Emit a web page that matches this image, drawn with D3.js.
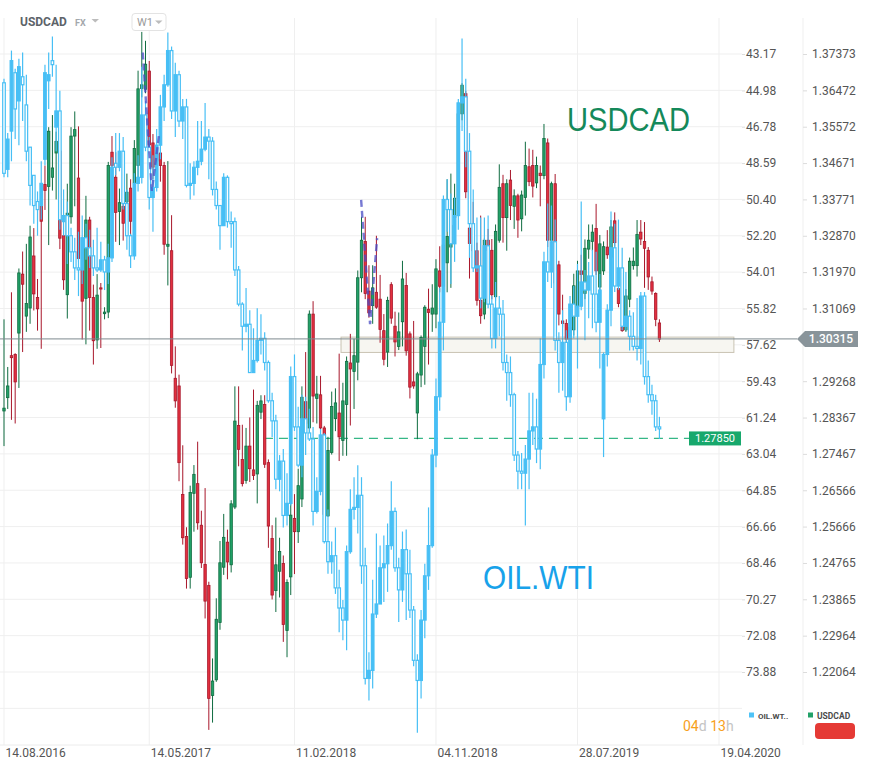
<!DOCTYPE html>
<html>
<head>
<meta charset="utf-8">
<script src="https://cdn.jsdelivr.net/npm/d3@7"></script>
<style>
  body { margin: 0; background: #fff; }
  svg { display: block; font-family: Roboto, "Noto Sans", sans-serif; }
</style>
</head>
<body>
<svg id="chart" width="870" height="771"></svg>
<script>
// axis labels
const oilTicks = [43.17, 44.98, 46.78, 48.59, 50.40, 52.20, 54.01, 55.82, 57.62, 59.43, 61.24, 63.04, 64.85, 66.66, 68.46, 70.27, 72.08, 73.88];
const usdTicks = [1.37373, 1.36472, 1.35572, 1.34671, 1.33771, 1.32870, 1.31970, 1.31069, 1.30169, 1.29268, 1.28367, 1.27467, 1.26566, 1.25666, 1.24765, 1.23865, 1.22964, 1.22064];
const dateTicks = ['14.08.2016', '14.05.2017', '11.02.2018', '04.11.2018', '28.07.2019', '19.04.2020'];
const firstWeek = '14.08.2016';

// USDCAD weekly candles
const usdOpen = [
  1.2853,1.2886,1.2990,1.2993,1.3046,1.3192,1.3088,1.3108,1.3237,1.3134,
  1.3360,1.3414,1.3409,1.3432,1.3492,1.3497,1.3287,1.3141,1.3334,1.3534,
  1.3430,1.3203,1.3132,1.3326,1.3134,1.3029,1.3158,1.3094,1.3098,1.3494,
  1.3432,1.3347,1.3360,1.3371,1.3405,1.3418,1.3461,1.3652,1.3650,1.3695,
  1.3517,1.3489,1.3492,1.3461,1.3261,1.3250,1.2934,1.2915,1.2646,1.2542,
  1.2441,1.2649,1.2673,1.2570,1.2473,1.2421,1.2148,1.2187,1.2329,1.2466,
  1.2528,1.2472,1.2615,1.2817,1.2733,1.2681,1.2766,1.2707,1.2697,1.2850,
  1.2869,1.2725,1.2537,1.2408,1.2456,1.2475,1.2309,1.2442,1.2587,1.2554,
  1.2635,1.2876,1.2811,1.3093,1.2884,1.2893,1.2811,1.2593,1.2750,1.2834,
  1.2848,1.2780,1.2869,1.2972,1.2951,1.2974,1.3183,1.3273,1.3150,1.3114,
  1.3147,1.3130,1.3052,1.2999,1.3166,1.3063,1.3013,1.3074,1.3164,1.3044,
  1.2925,1.2848,1.2942,1.3013,1.3105,1.3093,1.3093,1.3200,1.3162,1.3220,
  1.3259,1.3332,1.3380,1.3589,1.3639,1.3306,1.3264,1.3250,1.3127,1.3093,
  1.3276,1.3251,1.3136,1.3276,1.3416,1.3332,1.3425,1.3360,1.3386,1.3329,
  1.3382,1.3458,1.3461,1.3418,1.3442,1.3436,1.3517,1.3276,1.3416,1.3215,
  1.3076,1.3070,1.3031,1.3054,1.3111,1.3200,1.3144,1.3254,1.3273,1.3305,
  1.3160,1.3200,1.3259,1.3234,1.3324,1.3156,1.3060,1.3054,1.3130,1.3213,
  1.3213,1.3296,1.3273,1.3251,1.3173,1.3144,1.3071
];
const usdHigh = [
  1.3080,1.2962,1.3147,1.2996,1.3206,1.3248,1.3267,1.3312,1.3306,1.3180,
  1.3371,1.3461,1.3556,1.3586,1.3545,1.3500,1.3290,1.3416,1.3556,1.3595,
  1.3558,1.3282,1.3386,1.3334,1.3166,1.3192,1.3170,1.3110,1.3470,1.3534,
  1.3494,1.3404,1.3366,1.3441,1.3427,1.3524,1.3696,1.3792,1.3770,1.3720,
  1.3539,1.3503,1.3506,1.3470,1.3472,1.3338,1.3013,1.2943,1.2768,1.2565,
  1.2668,1.2719,1.2777,1.2606,1.2662,1.2430,1.2240,1.2389,1.2531,1.2598,
  1.2559,1.2632,1.2914,1.2914,1.2819,1.2811,1.2837,1.2906,1.2878,1.2892,
  1.2892,1.2733,1.2570,1.2589,1.2539,1.2495,1.2436,1.2638,1.2647,1.2710,
  1.2914,1.2999,1.3102,1.3125,1.2940,1.2940,1.2816,1.2789,1.2901,1.2909,
  1.2995,1.2923,1.2988,1.3044,1.3032,1.3201,1.3334,1.3334,1.3214,1.3214,
  1.3287,1.3190,1.3093,1.3136,1.3172,1.3099,1.3097,1.3225,1.3195,1.3050,
  1.3076,1.2950,1.3040,1.3115,1.3156,1.3167,1.3229,1.3261,1.3282,1.3427,
  1.3441,1.3416,1.3617,1.3665,1.3646,1.3371,1.3371,1.3270,1.3337,1.3282,
  1.3304,1.3279,1.3315,1.3464,1.3438,1.3427,1.3450,1.3402,1.3391,1.3399,
  1.3520,1.3503,1.3500,1.3483,1.3461,1.3564,1.3528,1.3421,1.3440,1.3225,
  1.3141,1.3080,1.3100,1.3193,1.3225,1.3240,1.3278,1.3315,1.3315,1.3366,
  1.3289,1.3273,1.3301,1.3326,1.3345,1.3282,1.3165,1.3155,1.3233,1.3258,
  1.3326,1.3326,1.3321,1.3259,1.3186,1.3147,1.3080
];
const usdLow = [
  1.2766,1.2858,1.2831,1.2822,1.2910,1.2999,1.3049,1.3069,1.3102,1.3052,
  1.3007,1.3351,1.3264,1.3399,1.3377,1.3254,1.3153,1.3082,1.3317,1.3360,
  1.3222,1.3030,1.3018,1.3052,1.2968,1.3007,1.3009,1.3080,1.3083,1.3430,
  1.3272,1.3264,1.3275,1.3287,1.3275,1.3410,1.3427,1.3630,1.3640,1.3500,
  1.3427,1.3438,1.3421,1.3240,1.3164,1.2946,1.2861,1.2679,1.2522,1.2413,
  1.2413,1.2554,1.2559,1.2464,1.2339,1.2063,1.2081,1.2182,1.2311,1.2447,
  1.2436,1.2453,1.2610,1.2716,1.2666,1.2673,1.2677,1.2682,1.2624,1.2833,
  1.2712,1.2514,1.2386,1.2355,1.2391,1.2281,1.2243,1.2397,1.2449,1.2526,
  1.2615,1.2813,1.2800,1.2825,1.2822,1.2797,1.2586,1.2591,1.2745,1.2803,
  1.2729,1.2742,1.2742,1.2817,1.2858,1.2929,1.3147,1.3130,1.3084,1.3069,
  1.3106,1.3022,1.2966,1.2962,1.3069,1.2988,1.3004,1.3013,1.2990,1.2884,
  1.2908,1.2783,1.2912,1.2918,1.2968,1.3049,1.3058,1.3147,1.3147,1.3147,
  1.3158,1.3315,1.3371,1.3573,1.3380,1.3181,1.3237,1.3114,1.3069,1.3080,
  1.3237,1.3130,1.3125,1.3270,1.3270,1.3250,1.3326,1.3304,1.3282,1.3298,
  1.3337,1.3410,1.3382,1.3405,1.3360,1.3427,1.3259,1.3259,1.3158,1.3065,
  1.3060,1.3024,1.3015,1.3040,1.3100,1.3150,1.3130,1.3230,1.3250,1.3190,
  1.3140,1.3190,1.3230,1.3220,1.3260,1.3110,1.3049,1.3049,1.3110,1.3203,
  1.3186,1.3264,1.3158,1.3153,1.3141,1.3063,1.3024
];
const usdClose = [
  1.2860,1.2915,1.2985,1.2925,1.3195,1.3167,1.3119,1.3284,1.3143,1.3106,
  1.3323,1.3399,1.3546,1.3455,1.3521,1.3281,1.3178,1.3343,1.3534,1.3550,
  1.3231,1.3125,1.3326,1.3134,1.3027,1.3140,1.3155,1.3098,1.3461,1.3461,
  1.3345,1.3369,1.3318,1.3395,1.3323,1.3503,1.3651,1.3661,1.3712,1.3512,
  1.3457,1.3472,1.3461,1.3266,1.3266,1.2966,1.2878,1.2725,1.2539,1.2438,
  1.2651,1.2696,1.2576,1.2477,1.2382,1.2141,1.2184,1.2337,1.2477,1.2540,
  1.2479,1.2623,1.2828,1.2758,1.2673,1.2766,1.2710,1.2693,1.2867,1.2878,
  1.2721,1.2568,1.2397,1.2472,1.2505,1.2324,1.2428,1.2595,1.2554,1.2668,
  1.2887,1.2822,1.3093,1.2890,1.2895,1.2811,1.2597,1.2755,1.2864,1.2873,
  1.2789,1.2878,1.2976,1.2957,1.2990,1.3183,1.3276,1.3144,1.3096,1.3158,
  1.3110,1.3055,1.2981,1.3127,1.3083,1.3024,1.3049,1.3180,1.3002,1.2912,
  1.2915,1.2945,1.3035,1.3110,1.3097,1.3108,1.3205,1.3162,1.3264,1.3285,
  1.3313,1.3380,1.3589,1.3660,1.3396,1.3268,1.3250,1.3127,1.3089,1.3276,
  1.3251,1.3141,1.3298,1.3407,1.3332,1.3416,1.3362,1.3386,1.3326,1.3388,
  1.3461,1.3421,1.3410,1.3461,1.3436,1.3528,1.3276,1.3416,1.3170,1.3093,
  1.3070,1.3031,1.3060,1.3163,1.3200,1.3191,1.3256,1.3276,1.3296,1.3200,
  1.3267,1.3260,1.3240,1.3309,1.3270,1.3119,1.3052,1.3138,1.3224,1.3224,
  1.3290,1.3279,1.3256,1.3185,1.3150,1.3080,1.3031
];

// OIL.WTI weekly candles (drawn on the inverted left scale)
const oilOpen = [
  44.6,48.9,47.0,44.1,45.5,44.3,45.7,47.8,49.2,50.5,
  50.7,48.4,44.5,43.5,46.8,46.0,51.5,51.2,52.2,53.0,
  53.8,53.9,52.3,52.8,53.2,53.8,53.9,53.4,54.0,53.3,
  48.6,48.8,48.0,50.6,52.2,53.2,49.6,49.3,46.2,47.8,
  50.3,49.8,47.7,45.8,44.7,43.0,46.0,44.2,46.5,45.8,
  49.7,49.6,48.8,48.5,47.9,47.3,47.5,49.9,50.7,51.7,
  49.3,51.5,51.5,53.9,55.6,56.7,56.6,59.0,58.4,57.4,
  57.3,58.5,60.4,61.4,64.3,63.4,66.1,65.5,59.2,61.7,
  63.6,61.3,62.0,62.3,65.9,64.9,62.1,67.4,68.4,68.1,
  69.7,70.7,71.3,67.9,65.8,65.7,65.1,68.6,74.2,73.8,
  71.0,70.5,68.7,68.5,67.6,65.9,68.7,69.8,67.8,69.0,
  70.8,73.3,74.3,71.3,69.1,67.6,63.1,60.2,56.5,50.4,
  50.9,52.6,51.2,45.6,45.3,48.0,51.6,53.8,53.7,55.3,
  52.7,55.6,57.3,55.8,56.1,58.5,59.0,60.1,63.1,63.9,
  64.0,63.3,61.9,61.7,62.8,58.6,53.5,54.0,52.5,57.4,
  58.5,57.5,60.2,55.6,56.2,55.7,54.5,54.9,54.2,55.1,
  56.5,61.3,58.1,55.9,52.8,54.7,53.8,56.7,56.2,57.2,
  57.7,57.8,55.2,59.2,60.1,60.4,61.7
];
const oilHigh = [
  49.3,49.3,48.5,47.4,47.7,46.5,48.5,50.7,51.6,52.2,
  51.4,48.7,45.9,44.3,48.0,51.9,52.2,53.6,53.5,54.4,
  55.2,54.6,53.4,53.8,54.2,54.0,54.0,54.9,54.6,53.5,
  49.2,49.0,50.9,52.9,53.8,53.4,50.0,49.6,48.0,50.9,
  52.0,50.0,48.4,46.5,44.8,46.4,47.3,46.8,47.4,49.8,
  50.4,50.2,49.2,48.7,48.0,49.4,50.2,50.9,52.9,51.7,
  51.8,52.8,54.2,55.7,57.9,57.0,59.0,59.0,58.5,58.1,
  58.9,60.5,62.2,64.8,64.9,66.7,66.6,65.6,61.9,63.7,
  64.2,63.1,62.4,66.6,66.0,65.1,67.5,69.0,69.0,70.0,
  71.9,72.3,72.8,68.0,66.3,67.0,69.5,74.5,75.3,74.7,
  71.2,70.5,70.4,69.9,67.8,68.9,71.4,70.4,71.3,71.2,
  73.6,76.9,75.2,72.2,69.8,67.7,63.7,60.9,57.9,52.0,
  54.6,53.5,51.9,47.0,48.8,53.3,54.0,54.0,55.8,55.5,
  55.8,57.8,57.8,57.2,58.9,60.4,60.7,63.4,64.8,64.8,
  66.6,64.8,62.6,63.5,63.8,59.3,54.5,54.8,57.9,60.0,
  59.9,60.9,60.5,57.3,58.8,55.9,57.4,56.3,56.8,57.0,
  58.8,63.2,58.7,56.7,55.0,54.9,56.9,56.9,57.9,57.9,
  58.4,58.6,59.6,60.5,61.1,61.9,62.3
];
const oilLow = [
  44.4,47.1,43.0,43.9,43.4,43.1,44.2,47.8,49.2,50.0,
  48.5,43.7,43.1,42.3,43.7,45.0,49.9,50.5,51.8,52.3,
  52.0,51.2,51.6,51.9,52.4,51.8,52.5,53.2,52.6,48.3,
  47.1,47.1,47.3,49.9,52.1,49.1,48.2,43.8,45.5,47.3,
  48.2,46.9,45.2,44.2,42.1,42.8,43.6,44.0,45.4,45.4,
  48.6,48.5,46.5,46.5,45.6,46.9,47.3,49.5,50.7,49.1,
  49.2,51.0,51.3,53.7,55.5,54.8,55.9,56.8,55.8,56.1,
  57.0,58.4,60.0,61.1,63.1,62.8,64.0,58.7,58.1,60.7,
  60.1,60.2,60.8,61.7,64.2,61.8,62.0,65.8,67.4,66.7,
  68.8,70.3,67.6,64.8,64.2,63.6,64.2,67.7,72.9,69.3,
  67.0,67.6,67.1,66.5,64.4,65.7,68.2,66.9,66.8,67.8,
  70.6,73.0,70.8,68.5,65.7,62.8,59.3,54.8,50.2,49.4,
  50.1,50.3,45.4,42.4,44.4,47.1,49.9,51.3,51.3,51.3,
  51.2,55.2,54.5,55.2,55.4,58.1,58.2,60.0,62.9,63.0,
  62.6,60.0,60.0,60.3,57.3,53.0,50.6,50.7,51.4,57.0,
  55.9,56.9,55.2,54.7,53.6,50.5,53.9,53.5,52.9,53.0,
  54.1,58.0,55.6,51.0,51.6,51.4,52.8,54.0,55.9,56.0,
  55.3,55.0,55.0,58.4,59.6,60.1,61.2
];
const oilClose = [
  49.1,47.4,43.5,45.9,43.8,44.7,48.0,49.7,50.7,50.9,
  49.6,44.1,44.2,43.7,46.0,51.4,51.2,52.2,53.0,53.8,
  53.9,52.3,52.8,53.2,53.8,53.9,53.4,54.0,53.3,48.8,
  48.8,48.0,50.6,52.2,53.2,49.6,49.3,46.2,47.8,50.3,
  49.8,47.7,45.8,44.7,43.0,46.0,44.2,46.5,45.8,49.7,
  49.6,48.8,48.5,47.9,47.3,47.5,49.9,50.7,51.7,49.3,
  51.5,51.6,53.9,55.6,56.7,56.6,59.0,58.4,57.4,57.3,
  58.5,60.4,61.4,64.3,63.4,66.1,65.5,59.2,61.7,63.6,
  61.3,62.0,62.3,65.9,64.9,62.1,67.4,68.4,68.1,69.7,
  70.7,71.3,67.9,65.8,65.7,65.1,68.6,74.2,73.8,71.0,
  70.5,68.7,68.5,67.6,65.9,68.7,69.8,67.8,69.0,70.8,
  73.3,74.3,71.3,69.1,67.6,63.1,60.2,56.5,50.4,50.9,
  52.6,51.2,45.6,45.3,48.0,51.6,53.8,53.7,55.3,52.7,
  55.6,57.3,55.8,56.1,58.5,59.0,60.1,63.1,63.9,64.0,
  63.3,61.9,61.7,62.8,58.6,53.5,54.0,52.5,57.4,58.5,
  57.5,60.2,55.6,56.2,55.7,54.5,54.9,54.2,55.1,56.5,
  54.9,58.1,55.9,52.8,54.7,53.8,56.7,56.2,57.2,57.7,
  57.8,55.2,59.2,60.1,60.4,61.7,61.8
];

// chart drawings: [week index, USDCAD price]
const zigzagA = [[37.25, 1.3741], [39.7, 1.3398], [41.7, 1.3542]];
const zigzagB = [[95.9, 1.3376], [98.3, 1.3068], [100.2, 1.3281]];
const zone = {from: 90.5, to: 196, hi: 1.3036, lo: 1.2998};
const level = {from: 69.8, price: 1.27850};
const lastPrice = 1.30315;

const svg = d3.select('#chart');
const parseDay = d3.timeParse('%d.%m.%Y');
const start = parseDay(firstWeek);
const weekDate = k => new Date(start.getTime() + k * 7 * 864e5);

const x = d3.scaleTime()
  .domain([parseDay(dateTicks[0]), parseDay(dateTicks[dateTicks.length - 1])])
  .range([4, 719]);
const yUsd = d3.scaleLinear()
  .domain([usdTicks[usdTicks.length - 1], usdTicks[0]])
  .range([672, 54]);
const yOil = d3.scaleLinear()
  .domain([oilTicks[0], oilTicks[oilTicks.length - 1]])
  .range([54, 672]);

// grid
const grid = svg.append('g');
const stepUsd = usdTicks[0] - usdTicks[1];
grid.selectAll('line.h').data(usdTicks.concat([usdTicks[usdTicks.length - 1] - stepUsd]))
  .enter().append('line')
    .attr('x1', 0).attr('x2', 742)
    .attr('y1', d => yUsd(d)).attr('y2', d => yUsd(d))
    .attr('stroke', '#efefef');
grid.selectAll('line.v').data(dateTicks)
  .enter().append('line')
    .attr('x1', d => x(parseDay(d))).attr('x2', d => x(parseDay(d)))
    .attr('y1', 18).attr('y2', 745)
    .attr('stroke', '#efefef');
grid.append('line').attr('x1', 0).attr('x2', 742).attr('y1', 745).attr('y2', 745).attr('stroke', '#ececec');
grid.append('line').attr('x1', 803).attr('x2', 803).attr('y1', 18).attr('y2', 745).attr('stroke', '#efefef');

svg.append('clipPath').attr('id', 'plot')
  .append('rect').attr('x', 0).attr('y', 18).attr('width', 742).attr('height', 727);
const plot = svg.append('g').attr('clip-path', 'url(#plot)');

// highlight zone and level line
plot.append('rect')
  .attr('x', x(weekDate(zone.from))).attr('width', x(weekDate(zone.to)) - x(weekDate(zone.from)))
  .attr('y', yUsd(zone.hi)).attr('height', yUsd(zone.lo) - yUsd(zone.hi))
  .attr('fill', '#f7f6f1').attr('stroke', '#c9c3b3').attr('stroke-width', 1);

plot.append('line')
  .attr('x1', x(weekDate(level.from))).attr('x2', 689)
  .attr('y1', yUsd(level.price)).attr('y2', yUsd(level.price))
  .attr('stroke', '#35b786').attr('stroke-width', 1.2).attr('stroke-dasharray', '9,6');

// USDCAD candles
const usdData = usdOpen.map((o, i) => ({i, o, h: usdHigh[i], l: usdLow[i], c: usdClose[i]}));
const usdUp = d => d.c >= d.o;
const usdG = plot.append('g');
usdG.selectAll('line').data(usdData).enter().append('line')
  .attr('x1', d => x(weekDate(d.i))).attr('x2', d => x(weekDate(d.i)))
  .attr('y1', d => yUsd(d.h)).attr('y2', d => yUsd(d.l))
  .attr('stroke', d => usdUp(d) ? '#0f6c40' : '#a8172b').attr('stroke-width', 1);
usdG.selectAll('rect').data(usdData).enter().append('rect')
  .attr('x', d => x(weekDate(d.i)) - 1.2).attr('width', 2.4)
  .attr('y', d => yUsd(Math.max(d.o, d.c)))
  .attr('height', d => Math.max(1, Math.abs(yUsd(d.o) - yUsd(d.c))))
  .attr('fill', d => usdUp(d) ? '#22a168' : '#e2303f')
  .attr('stroke', d => usdUp(d) ? '#0f6c40' : '#a8172b').attr('stroke-width', 0.8);

// OIL.WTI candles, hollow when price rose
const oilData = oilOpen.map((o, i) => ({i, o, h: oilHigh[i], l: oilLow[i], c: oilClose[i]}));
const oilG = plot.append('g');
oilG.selectAll('line').data(oilData).enter().append('line')
  .attr('x1', d => x(weekDate(d.i))).attr('x2', d => x(weekDate(d.i)))
  .attr('y1', d => yOil(d.l)).attr('y2', d => yOil(d.h))
  .attr('stroke', '#47bff5').attr('stroke-width', 1.2);
oilG.selectAll('rect').data(oilData).enter().append('rect')
  .attr('x', d => x(weekDate(d.i)) - 1.3).attr('width', 2.6)
  .attr('y', d => yOil(Math.min(d.o, d.c)))
  .attr('height', d => Math.max(1, Math.abs(yOil(d.o) - yOil(d.c))))
  .attr('fill', d => d.c > d.o ? '#ffffff' : '#47bff5')
  .attr('stroke', '#47bff5').attr('stroke-width', 1.2);

// purple drawings
const zig = d3.line().x(d => x(weekDate(d[0]))).y(d => yUsd(d[1]));
[zigzagA, zigzagB].forEach(pts => {
  plot.append('path').attr('d', zig(pts))
    .attr('fill', 'none').attr('stroke', '#4a4cc4').attr('stroke-opacity', 0.75)
    .attr('stroke-width', 2.4).attr('stroke-dasharray', '7,4');
});

// axes
const styleAxis = g => {
  g.select('.domain').remove();
  g.selectAll('line').attr('stroke', '#dcdcdc');
  g.selectAll('text').attr('fill', '#555').attr('font-size', 12).attr('font-family', 'Roboto, sans-serif');
};
svg.append('g').attr('transform', 'translate(742,0)')
  .call(d3.axisRight(yOil).tickValues(oilTicks).tickSize(3).tickPadding(1).tickFormat(d3.format('.2f')))
  .call(styleAxis);
// the USDCAD tick under the current-price tag is covered by it, as on the chart
svg.append('g').attr('transform', 'translate(803,0)')
  .call(d3.axisRight(yUsd).tickValues(usdTicks).tickSize(4).tickPadding(5)
    .tickFormat(d => Math.abs(yUsd(d) - yUsd(lastPrice)) < 10 ? '' : d3.format('.5f')(d)))
  .call(styleAxis);
svg.append('g').attr('transform', 'translate(0,745)')
  .call(d3.axisBottom(x).tickValues(dateTicks.map(parseDay)).tickSize(0).tickPadding(3).tickFormat(d3.timeFormat('%d.%m.%Y')))
  .call(styleAxis)
  .call(g => g.selectAll('text').attr('text-anchor', 'start').attr('x', 1));

// current price line + label
const py = yUsd(lastPrice);
svg.append('line')
  .attr('x1', 0).attr('x2', 797)
  .attr('y1', py).attr('y2', py)
  .attr('stroke', '#7d8a8f').attr('stroke-width', 1);
svg.append('path')
  .attr('d', `M797,${py} L805,${py - 8} H858 V${py + 8} H805 Z`)
  .attr('fill', '#89949a');
svg.append('text').attr('x', 831).attr('y', py + 4.5).attr('text-anchor', 'middle')
  .attr('fill', '#fff').attr('font-size', 12).attr('font-weight', 500)
  .text(d3.format('.5f')(lastPrice));

// level label
const ly = yUsd(level.price);
svg.append('rect').attr('x', 689).attr('y', ly - 7).attr('width', 52).attr('height', 14).attr('fill', '#17a86c');
svg.append('text').attr('x', 715).attr('y', ly + 4).attr('text-anchor', 'middle')
  .attr('fill', '#fff').attr('font-size', 11).text(d3.format('.5f')(level.price));

// header
svg.append('text').attr('x', 20).attr('y', 26).attr('font-size', 12).attr('font-weight', 700)
  .attr('fill', '#5d6369').text('USDCAD');
svg.append('text').attr('x', 75).attr('y', 25.5).attr('font-size', 9).attr('font-weight', 700)
  .attr('fill', '#a4a8ac').text('FX');
svg.append('path').attr('d', 'M91.5,19 L99,19 L95.25,22.5 Z').attr('fill', '#bcbcbc');
svg.append('rect').attr('x', 132).attr('y', 13.5).attr('width', 34).attr('height', 17).attr('rx', 3)
  .attr('fill', '#fff').attr('stroke', '#e3e3e3');
svg.append('text').attr('x', 137).attr('y', 26).attr('font-size', 11).attr('fill', '#9a9a9a').text('W1');
svg.append('path').attr('d', 'M155,20.5 L162.5,20.5 L158.75,24 Z').attr('fill', '#bcbcbc');

// big series captions
svg.append('text').attr('x', 567).attr('y', 131).attr('font-size', 34)
  .attr('font-family', '"Liberation Sans Narrow", "Liberation Sans", Arial, sans-serif')
  .attr('textLength', 123).attr('lengthAdjust', 'spacingAndGlyphs')
  .attr('fill', '#14895a').text('USDCAD');
svg.append('text').attr('x', 483).attr('y', 589).attr('font-size', 34)
  .attr('font-family', '"Liberation Sans Narrow", "Liberation Sans", Arial, sans-serif')
  .attr('textLength', 111).attr('lengthAdjust', 'spacingAndGlyphs')
  .attr('fill', '#18a2ea').text('OIL.WTI');

// countdown
const cd = svg.append('text').attr('x', 683).attr('y', 731).attr('font-size', 14);
cd.append('tspan').attr('fill', '#f7a01c').text('04');
cd.append('tspan').attr('fill', '#c4c4c4').text('d ');
cd.append('tspan').attr('fill', '#f7a01c').text('13');
cd.append('tspan').attr('fill', '#c4c4c4').text('h');

// legend
svg.append('rect').attr('x', 749).attr('y', 712.5).attr('width', 5).attr('height', 5).attr('fill', '#4fc3f7');
svg.append('text').attr('x', 758).attr('y', 718.5).attr('font-size', 8).attr('font-weight', 700)
  .attr('fill', '#4a4a4a').text('OIL.WT..');
svg.append('rect').attr('x', 808).attr('y', 712.5).attr('width', 5).attr('height', 5).attr('fill', '#22a168');
svg.append('text').attr('x', 817).attr('y', 718.5).attr('font-size', 8.5).attr('font-weight', 700)
  .attr('fill', '#4a4a4a').text('USDCAD');
svg.append('rect').attr('x', 815).attr('y', 723).attr('width', 40).attr('height', 16).attr('rx', 4)
  .attr('fill', '#e53a35');
</script>
</body>
</html>
